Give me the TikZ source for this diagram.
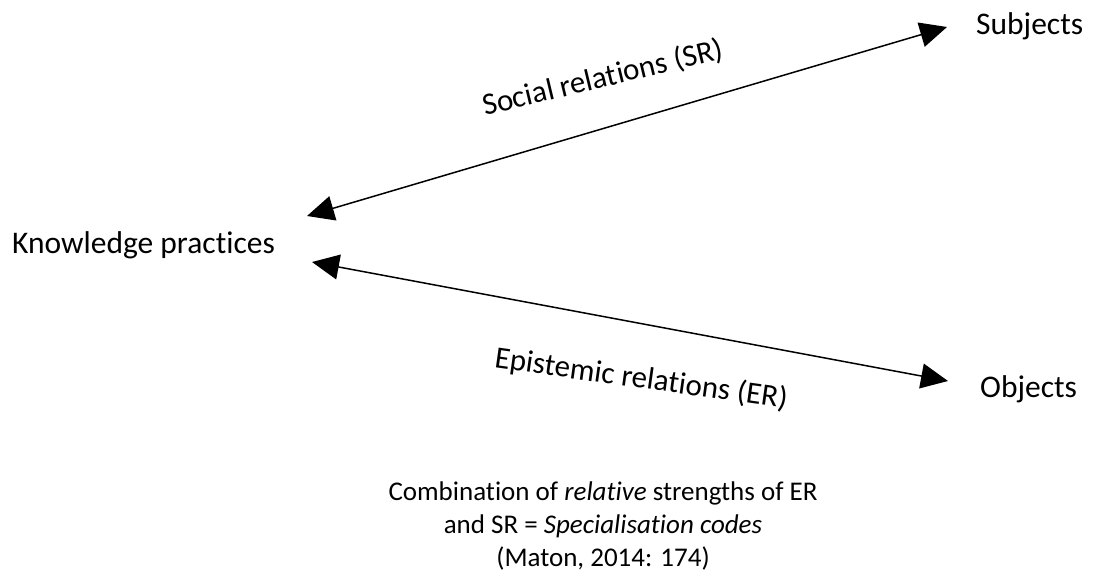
\documentclass[tikz,border=0pt]{standalone}
\usepackage{fontspec}
\setmainfont{Carlito}[Ligatures=NoCommon]
\usetikzlibrary{arrows.meta}
\begin{document}
\begin{tikzpicture}[x=1pt,y=-1pt,
  term/.style={inner sep=0pt, anchor=base west, font=\fontsize{31.5}{38}\selectfont},
  rel/.style={inner sep=0pt, anchor=base, font=\fontsize{31}{38}\selectfont},
  note/.style={inner sep=0pt, anchor=base, font=\fontsize{27}{33}\selectfont},
  link/.style={line width=1.5pt,
    {Triangle[length=27pt,width=25pt]}-{Triangle[length=27pt,width=25pt]}}]
\useasboundingbox (0,0) rectangle (1094,576);

% the three poles
\node[term] (kp) at (12,253) {Knowledge practices};
\node[term] (subj) at (976,34) {Subjects};
\node[term] (obj) at (980,397) {Objects};

% arrow end points
\coordinate (kpTop) at (307,216);
\coordinate (subjTip) at (947,27);
\coordinate (kpBot) at (312,262);
\coordinate (objTip) at (948,381);

\draw[link] (kpTop) -- (subjTip);
\draw[link] (kpBot) -- (objTip);

% relation labels
\node[rel, rotate=13.5] (sr) at (605,87) {Social relations (SR)};
\node[rel, rotate=-8] (er) at (640,388) {Epistemic relations (ER)};

% caption
\node[note] (cap1) at (603,500) {Combination of \textit{relative} strengths of ER};
\node[note] (cap2) at (603,533) {and SR = \textit{Specialisation codes}};
\node[note] (cap3) at (603,566) {(Maton, 2014: 174)};
\end{tikzpicture}
\end{document}
